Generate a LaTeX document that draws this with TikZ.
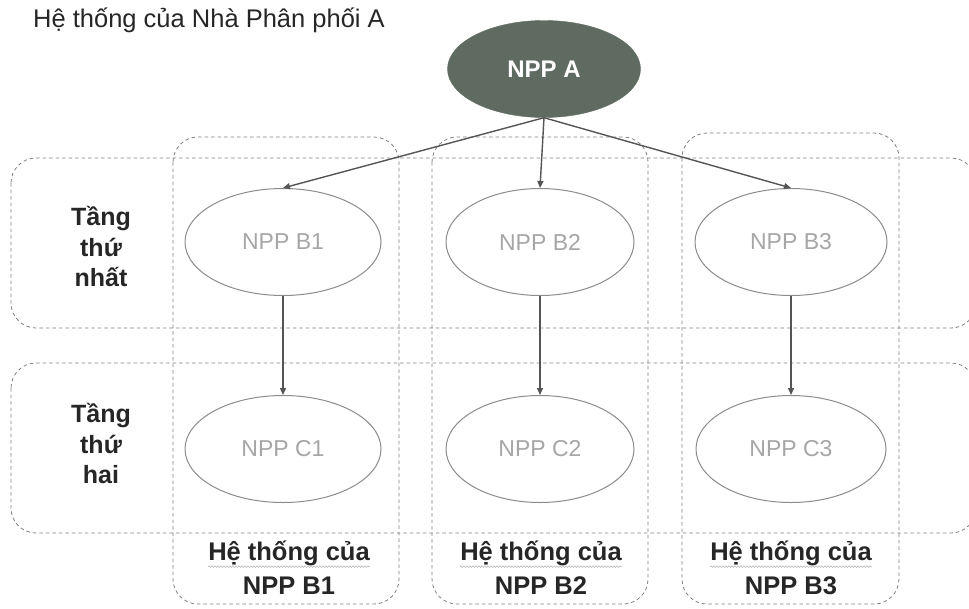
\documentclass[tikz,border=0pt]{standalone}
\usepackage{fontspec}
\setmainfont{Liberation Sans}
\usetikzlibrary{shapes.geometric,arrows.meta,decorations.pathmorphing}
\definecolor{npptop}{HTML}{5F6A61}
\definecolor{boxline}{HTML}{808080}
\definecolor{ellline}{HTML}{8C8C8C}
\definecolor{elltext}{HTML}{A6A6A6}
\definecolor{conn}{HTML}{555555}
\definecolor{labeltext}{HTML}{262626}
\tikzset{
  band/.style={draw=boxline, line width=0.8pt, dash pattern=on 3.5pt off 3pt, rounded corners=25pt},
  member/.style={ellipse, draw=ellline, line width=1pt, text=elltext, minimum width=196pt,
                 minimum height=107pt, inner sep=0pt, font=\fontsize{23}{26}\selectfont},
  head/.style={ellipse, fill=npptop, draw=npptop, text=white, minimum width=193pt,
               minimum height=97pt, inner sep=0pt, font=\fontsize{24}{27}\selectfont\bfseries},
  link/.style={draw=conn, line width=1.4pt, -{Triangle[length=7pt,width=6pt]}},
  tierlabel/.style={align=center, text=labeltext, font=\fontsize{25}{30.5}\selectfont\bfseries},
  syslabel/.style={text=labeltext, font=\fontsize{25.5}{29}\selectfont\bfseries, inner sep=0pt},
  squiggle/.style={draw=gray!55, line width=0.6pt, decorate,
                   decoration={snake, amplitude=0.8pt, segment length=3pt}}
}
\begin{document}
\begin{tikzpicture}[x=1pt,y=-1pt]
\useasboundingbox (0,0) rectangle (969,608);
\clip (0,0) rectangle (969,608);
\fill[white] (0,0) rectangle (969,608);

% title
\node[anchor=west, inner sep=0pt, text=labeltext, font=\fontsize{25.5}{30}\selectfont] (title) at (33,20) {Hệ thống của Nhà Phân phối A};

% tier bands
\draw[band] (11,158) rectangle (976,328);
\draw[band] (11,363) rectangle (976,533);

% distributor columns
\draw[band] (173,137) rectangle (399,604);
\draw[band] (432,137) rectangle (648,604);
\draw[band] (682,133) rectangle (899,604);

% tier labels
\node[tierlabel] (tier1) at (101,247) {Tầng\\thứ\\nhất};
\node[tierlabel] (tier2) at (101,444) {Tầng\\thứ\\hai};

% distributors
\node[head] (A) at (544,69) {NPP A};
\node[member] (B1) at (283,242) {NPP B1};
\node[member, minimum width=188pt] (B2) at (540,242) {NPP B2};
\node[member, minimum width=192pt] (B3) at (791,242) {NPP B3};
\node[member] (C1) at (283,449) {NPP C1};
\node[member, minimum width=188pt] (C2) at (540,449) {NPP C2};
\node[member, minimum width=190pt] (C3) at (791,449) {NPP C3};

% connections
\draw[link] (A.south) -- (B1.north);
\draw[link] (A.south) -- (B2.north);
\draw[link] (A.south) -- (B3.north);
\draw[link] (B1.south) -- (C1.north);
\draw[link] (B2.south) -- (C2.north);
\draw[link] (B3.south) -- (C3.north);

% system labels under each column
\node[syslabel] (s1a) at (289,553) {Hệ thống của};
\node[syslabel] (s1b) at (289,586) {NPP B1};
\node[syslabel] (s2a) at (541,553) {Hệ thống của};
\node[syslabel] (s2b) at (541,586) {NPP B2};
\node[syslabel] (s3a) at (791,553) {Hệ thống của};
\node[syslabel] (s3b) at (791,586) {NPP B3};

\foreach \s in {s1a,s2a,s3a}{
  \draw[squiggle] ([yshift=-1pt]\s.south west) -- ([yshift=-1pt]\s.south east);
}
\end{tikzpicture}
\end{document}
